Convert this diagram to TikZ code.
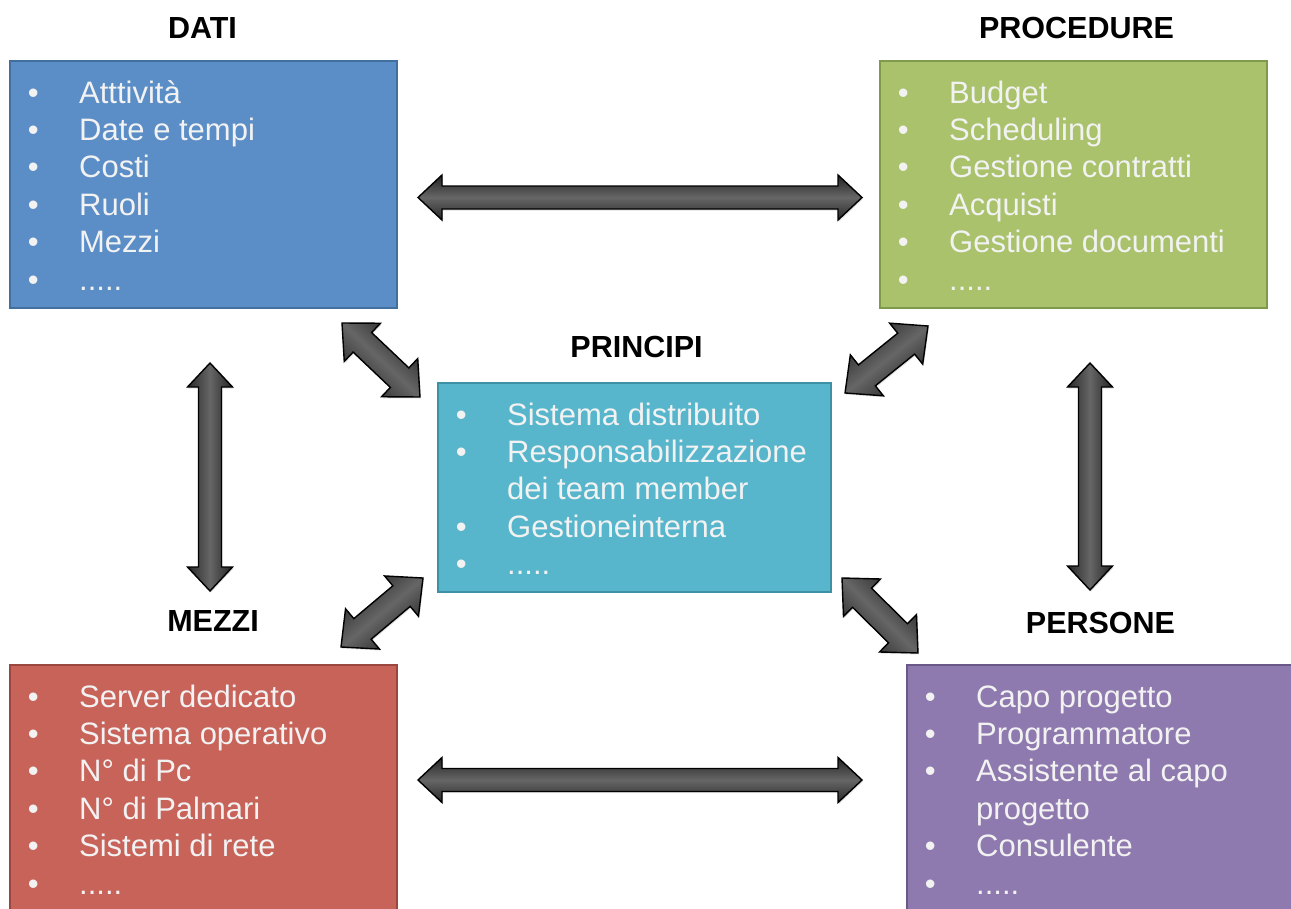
\documentclass[tikz,border=0pt]{standalone}
\usepackage{fontspec}
\setmainfont{Liberation Sans}
\usetikzlibrary{shadows}

\definecolor{datiFill}{HTML}{5B8EC6}\definecolor{datiLine}{HTML}{42709E}
\definecolor{procFill}{HTML}{A9C26B}\definecolor{procLine}{HTML}{7E9A4A}
\definecolor{prinFill}{HTML}{57B6CC}\definecolor{prinLine}{HTML}{3E90A5}
\definecolor{mezFill}{HTML}{C8635A}\definecolor{mezLine}{HTML}{9A4740}
\definecolor{perFill}{HTML}{8E7AAE}\definecolor{perLine}{HTML}{6A5889}
\definecolor{itemWhite}{HTML}{F2F2F2}

\tikzset{
  panel/.style 2 args={rectangle, draw=#2, fill=#1, line width=2.5pt,
    inner sep=0pt, outer sep=0pt, anchor=north west},
  heading/.style={font=\fontsize{30.5}{36}\selectfont\bfseries, anchor=base, inner sep=0pt},
  entry/.style={font=\fontsize{31}{37}\selectfont, text=itemWhite, anchor=base west, inner sep=0pt},
  arrowbody/.style={draw=black, line width=1.4pt, line join=miter,
    top color=black!86, bottom color=black!84, middle color=black!60,
    drop shadow={opacity=0.25, shadow xshift=1pt, shadow yshift=-1.5pt}},
}

% bullet column, continuation indent and trailing dots
\newcommand\bul{\makebox[51.4pt][l]{•}}
\newcommand\cont{\hspace*{51.4pt}}
\newcommand\moredots{.....}

% list lines of a panel, one baseline every 37.4pt
\newcommand\entries[2]{%
  \foreach \txt [count=\k] in {#2} {
    \node[entry] (#1-\k) at ([xshift=17.6pt, yshift={-42pt-37.4pt*(\k-1)}]#1.north west) {\txt};
  }}

% thick double-headed block arrow between two named coordinates;
% optional argument scales head and shaft size
\newcommand\blockarrow[3][1]{%
  \path (#2); \pgfgetlastxy\arax\aray
  \path (#3); \pgfgetlastxy\arbx\arby
  \pgfmathsetmacro\arang{atan2(\arby-\aray,\arbx-\arax)}
  \pgfmathsetmacro\arlen{veclen(\arbx-\arax,\arby-\aray)}
  \pgfmathsetmacro\arhl{24*#1}
  \pgfmathsetmacro\arhw{22.5*#1}
  \pgfmathsetmacro\arsw{11.5*#1}
  \pgfmathsetmacro\arneck{\arlen-\arhl}
  \begin{scope}[shift={(#2)}, rotate=\arang]
    \path[arrowbody, shading angle=\arang]
      (0,0) -- (\arhl,\arhw) -- (\arhl,\arsw) -- (\arneck,\arsw) -- (\arneck,\arhw)
      -- (\arlen,0) -- (\arneck,-\arhw) -- (\arneck,-\arsw) -- (\arhl,-\arsw)
      -- (\arhl,-\arhw) -- cycle;
  \end{scope}}

\begin{document}
\begin{tikzpicture}[x=1pt, y=1pt]
  \clip (0,0) rectangle (1291,-908);
  \fill[white] (0,0) rectangle (1291,-908);

  % panels
  \node[panel={datiFill}{datiLine}, minimum width=387pt, minimum height=247pt] (dati) at (10,-61) {};
  \node[panel={procFill}{procLine}, minimum width=387pt, minimum height=247pt] (proc) at (880,-61) {};
  \node[panel={prinFill}{prinLine}, minimum width=393pt, minimum height=209pt] (prin) at (438,-383) {};
  \node[panel={mezFill}{mezLine}, minimum width=387pt, minimum height=280pt] (mez) at (10,-665) {};
  \node[panel={perFill}{perLine}, minimum width=420pt, minimum height=280pt] (per) at (907,-665) {};

  % headings
  \node[heading] (h-dati) at (202.5,-38) {DATI};
  \node[heading] (h-proc) at (1076.5,-38) {PROCEDURE};
  \node[heading] (h-prin) at (636.5,-357) {PRINCIPI};
  \node[heading] (h-mez)  at (213,-631) {MEZZI};
  \node[heading] (h-per)  at (1100.5,-633) {PERSONE};

  % lists
  \entries{dati}{\bul Atttività, \bul Date e tempi, \bul Costi, \bul Ruoli, \bul Mezzi, \bul\moredots}
  \entries{proc}{\bul Budget, \bul Scheduling, \bul Gestione contratti, \bul Acquisti, \bul Gestione documenti, \bul\moredots}
  \entries{prin}{\bul Sistema distribuito, \bul Responsabilizzazione, \cont dei team member, \bul Gestioneinterna, \bul\moredots}
  \entries{mez}{\bul Server dedicato, \bul Sistema operativo, \bul N° di Pc, \bul N° di Palmari, \bul Sistemi di rete, \bul\moredots}
  \entries{per}{\bul Capo progetto, \bul Programmatore, \bul Assistente al capo, \cont progetto, \bul Consulente, \bul\moredots}

  % arrow end points
  \coordinate (dp-a) at (418,-197.5);  \coordinate (dp-b) at (862,-197.5);
  \coordinate (mp-a) at (418,-780);    \coordinate (mp-b) at (862,-780);
  \coordinate (dm-a) at (210,-363);    \coordinate (dm-b) at (210,-591);
  \coordinate (pp-a) at (1090,-363);   \coordinate (pp-b) at (1090,-590);
  \coordinate (di-a) at (342,-323);    \coordinate (di-b) at (420,-397);
  \coordinate (pi-a) at (928,-326);    \coordinate (pi-b) at (845,-393);
  \coordinate (mi-a) at (423,-578);    \coordinate (mi-b) at (341,-647);
  \coordinate (ei-a) at (842,-578);    \coordinate (ei-b) at (918,-653);

  % connectors
  \blockarrow{dp-a}{dp-b}
  \blockarrow{mp-a}{mp-b}
  \blockarrow{dm-a}{dm-b}
  \blockarrow{pp-a}{pp-b}
  \blockarrow[1.17]{di-a}{di-b}
  \blockarrow[1.17]{pi-a}{pi-b}
  \blockarrow[1.17]{mi-a}{mi-b}
  \blockarrow[1.17]{ei-a}{ei-b}
\end{tikzpicture}
\end{document}
